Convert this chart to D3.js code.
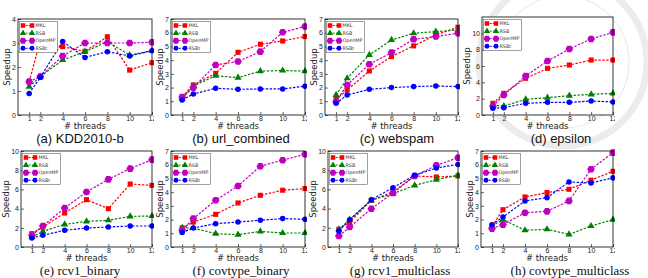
<!DOCTYPE html>
<html>
<head>
<meta charset="utf-8">
<script src="https://cdn.jsdelivr.net/npm/d3@7"></script>
<style>
body{margin:0;background:#fff;}
svg{display:block;font-family:"DejaVu Sans",sans-serif;}
</style>
</head>
<body>
<div id="vis-container"></div>
<script>
let threads = [1, 2, 4, 6, 8, 10, 12];
let methods = ["MKL", "RSB", "OpenMP", "RSBt"];
let captions = ["(a) KDD2010-b", "(b) url_combined", "(c) webspam", "(d) epsilon",
  "(e) rcv1_binary", "(f) covtype_binary", "(g) rcv1_multiclass", "(h) covtype_multiclass"];
let yMax = [4, 7, 7, 12, 10, 7, 10, 7];
let yTicks = [
  [0, 1, 2, 3, 4], [0, 1, 2, 3, 4, 5, 6, 7], [0, 1, 2, 3, 4, 5, 6, 7], [0, 2, 4, 6, 8, 10],
  [0, 2, 4, 6, 8, 10], [0, 1, 2, 3, 4, 5, 6, 7], [0, 2, 4, 6, 8, 10], [0, 1, 2, 3, 4, 5, 6, 7]
];

// one row per panel, values for 1,2,4,6,8,10,12 threads
let mkl = [
  [1.39, 3.1, 2.85, 2.65, 3.26, 1.87, 2.18],
  [1.34, 2.19, 3.04, 4.57, 5.16, 5.4, 5.72],
  [1.14, 1.82, 3.21, 4.26, 5.04, 5.84, 6.4],
  [1.43, 2.65, 4.49, 5.71, 6.12, 6.73, 6.73],
  [1.39, 2.08, 3.54, 4.93, 3.99, 6.56, 6.42],
  [1.39, 1.82, 2.38, 3.21, 3.77, 4.14, 4.26],
  [1.84, 2.6, 4.86, 5.73, 7.4, 7.29, 7.4],
  [1.53, 2.72, 3.65, 3.97, 4.21, 4.87, 5.52]
];
let rsb = [
  [1.18, 1.6, 2.29, 2.64, 3.05, 2.5, 2.68],
  [1.2, 2.1, 2.87, 2.72, 3.2, 3.24, 3.2],
  [1.46, 2.68, 4.38, 5.47, 5.96, 6.08, 6.2],
  [1.22, 1.1, 1.92, 2.12, 2.37, 2.53, 2.65],
  [1.04, 1.63, 2.36, 2.67, 2.78, 3.19, 3.23],
  [1.39, 1.39, 0.97, 0.9, 1.14, 1.02, 1.02],
  [1.84, 2.85, 4.86, 5.56, 6.42, 7.01, 7.47],
  [1.53, 2.0, 1.22, 1.29, 0.92, 1.53, 2.0]
];
let openmp = [
  [1.39, 1.6, 2.46, 3.0, 3.0, 3.0, 3.03],
  [1.3, 2.0, 3.65, 3.9, 4.62, 6.03, 6.45],
  [0.97, 2.19, 3.7, 4.55, 5.52, 5.72, 5.96],
  [1.1, 2.45, 4.78, 6.61, 8.08, 9.31, 10.12],
  [1.22, 2.19, 4.06, 5.73, 7.05, 8.16, 9.1],
  [1.22, 2.07, 3.41, 4.45, 5.89, 6.33, 6.76],
  [1.15, 2.08, 3.99, 5.63, 7.4, 8.5, 9.3],
  [1.34, 1.63, 2.5, 2.6, 3.36, 5.67, 6.88]
];
let rsbt = [
  [0.9, 1.57, 3.06, 2.4, 2.64, 2.46, 2.68],
  [1.1, 1.53, 1.95, 1.87, 1.9, 1.9, 2.1],
  [0.85, 1.46, 1.87, 2.0, 2.07, 2.12, 2.07],
  [0.82, 0.9, 1.43, 1.55, 1.55, 1.71, 1.6],
  [0.94, 1.22, 1.74, 1.98, 2.08, 2.19, 2.19],
  [1.05, 1.39, 1.7, 1.82, 1.95, 2.07, 2.02],
  [1.67, 2.85, 4.93, 6.18, 7.47, 8.23, 8.6],
  [1.63, 2.19, 3.36, 3.6, 4.74, 4.67, 5.04]
];

let w = 648;
let h = 278;

let svg = d3.select("#vis-container")
  .append("svg")
  .attr("width", w)
  .attr("height", h);

// faint seal watermark in the top right corner
let seal = svg.append("g").attr("fill", "none").attr("stroke", "#ececec");
seal.append("circle").attr("cx", 563).attr("cy", 62).attr("r", 84).attr("stroke-width", 7);
seal.append("circle").attr("cx", 563).attr("cy", 62).attr("r", 66).attr("stroke-width", 1.2);

// frame of every panel (left, right, top, bottom)
let boxes = [
  [18, 152, 19, 115], [171, 305, 19, 115], [325, 458, 19, 115], [482, 613, 17, 115],
  [21, 152, 151, 247], [171, 305, 151, 247], [328, 458, 151, 247], [481, 613, 151, 247]
];
let capX = [80, 241, 397, 561, 80, 241, 400, 570];

let hexagon = {
  draw(ctx, size) {
    let r = Math.sqrt(size / 2.6);
    for (let i = 0; i < 6; i++) {
      let a = Math.PI / 3 * i;
      let px = r * Math.cos(a), py = r * Math.sin(a);
      if (i == 0) ctx.moveTo(px, py); else ctx.lineTo(px, py);
    }
    ctx.closePath();
  }
};

let styles = [
  {color: "#ff0000", sym: d3.symbolSquare, size: 26},
  {color: "#008000", sym: d3.symbolTriangle, size: 22},
  {color: "#bf00bf", sym: hexagon, size: 38},
  {color: "#0000ff", sym: d3.symbolCircle, size: 24}
];
let allSeries = [mkl, rsb, openmp, rsbt];

let defs = svg.append("defs");

boxes.forEach((b, i) => {
  let [l, r, t, bt] = b;
  defs.append("clipPath").attr("id", "clip" + i)
    .append("rect")
    .attr("x", l - 40).attr("y", t - 10)
    .attr("width", r - l + 42).attr("height", bt - t + 40);

  let g = svg.append("g").attr("clip-path", "url(#clip" + i + ")");

  let x = d3.scaleLinear().domain([0, 12]).range([l, r]);
  let y = d3.scaleLinear().domain([0, yMax[i]]).range([bt, t]);

  g.append("rect")
    .attr("x", l).attr("y", t)
    .attr("width", r - l).attr("height", bt - t)
    .attr("fill", "#fff");

  let xa = g.append("g")
    .attr("transform", "translate(0," + bt + ")")
    .call(d3.axisBottom(x).tickValues(threads).tickFormat(d3.format("d"))
      .tickSizeInner(-3).tickSizeOuter(0).tickPadding(1.5));
  let ya = g.append("g")
    .attr("transform", "translate(" + l + ",0)")
    .call(d3.axisLeft(y).tickValues(yTicks[i]).tickFormat(d3.format("d"))
      .tickSizeInner(-3).tickSizeOuter(0).tickPadding(2));
  [xa, ya].forEach(a => {
    a.select(".domain").remove();
    a.selectAll("line").attr("stroke", "#000").attr("stroke-width", 0.6);
    a.selectAll("text").attr("font-size", 7).attr("fill", "#222");
  });

  let tw = d3.max(ya.selectAll("text").nodes(), n => n.getBBox().width);

  let line = d3.line()
    .x((d, k) => x(threads[k]))
    .y(d => y(d));

  allSeries.forEach((s, m) => {
    let st = styles[m];
    g.append("path")
      .datum(s[i])
      .attr("d", line)
      .attr("fill", "none")
      .attr("stroke", st.color)
      .attr("stroke-width", 1.2)
      .attr("stroke-dasharray", "2.4,1.5");
    g.selectAll(".m" + m)
      .data(s[i])
      .enter()
      .append("path")
      .attr("class", "m" + m)
      .attr("transform", (d, k) => "translate(" + x(threads[k]) + "," + y(d) + ")")
      .attr("d", d3.symbol().type(st.sym).size(st.size))
      .attr("fill", st.color);
  });

  // legend
  let lg = g.append("g").attr("transform", "translate(" + (l + 1.5) + "," + (t + 2.5) + ")");
  lg.append("rect")
    .attr("width", 38).attr("height", 31)
    .attr("fill", "#fff").attr("stroke", "#444").attr("stroke-width", 0.5);
  methods.forEach((name, m) => {
    let st = styles[m];
    let yy = 4 + m * 7.6;
    lg.append("line")
      .attr("x1", 3).attr("x2", 13).attr("y1", yy).attr("y2", yy)
      .attr("stroke", st.color).attr("stroke-width", 1)
      .attr("stroke-dasharray", "2,1.2");
    [3.5, 12.5].forEach(px => {
      lg.append("path")
        .attr("transform", "translate(" + px + "," + yy + ")")
        .attr("d", d3.symbol().type(st.sym).size(st.size * 0.8))
        .attr("fill", st.color);
    });
    lg.append("text")
      .attr("x", 16).attr("y", yy + 1.7)
      .attr("font-size", 4.8).attr("fill", "#333")
      .text(name);
  });

  g.append("rect")
    .attr("x", l).attr("y", t)
    .attr("width", r - l).attr("height", bt - t)
    .attr("fill", "none").attr("stroke", "#000").attr("stroke-width", 0.8);

  svg.append("text")
    .attr("transform", "translate(" + (l - 2 - tw - 2.5) + "," + ((t + bt) / 2) + ") rotate(-90)")
    .attr("text-anchor", "middle")
    .attr("font-size", 8.5)
    .attr("fill", "#222")
    .text("Speedup");

  svg.append("text")
    .attr("x", (l + r) / 2)
    .attr("y", bt + 14)
    .attr("text-anchor", "middle")
    .attr("font-size", 8.5)
    .attr("fill", "#222")
    .text("# threads");

  svg.append("text")
    .attr("x", capX[i])
    .attr("y", i < 4 ? 143 : 275)
    .attr("text-anchor", "middle")
    .attr("font-size", 13)
    .attr("font-family", i < 4 ? "'Liberation Sans', sans-serif" : "'Liberation Serif', serif")
    .attr("fill", "#111")
    .text(captions[i]);
});
</script>
</body>
</html>
